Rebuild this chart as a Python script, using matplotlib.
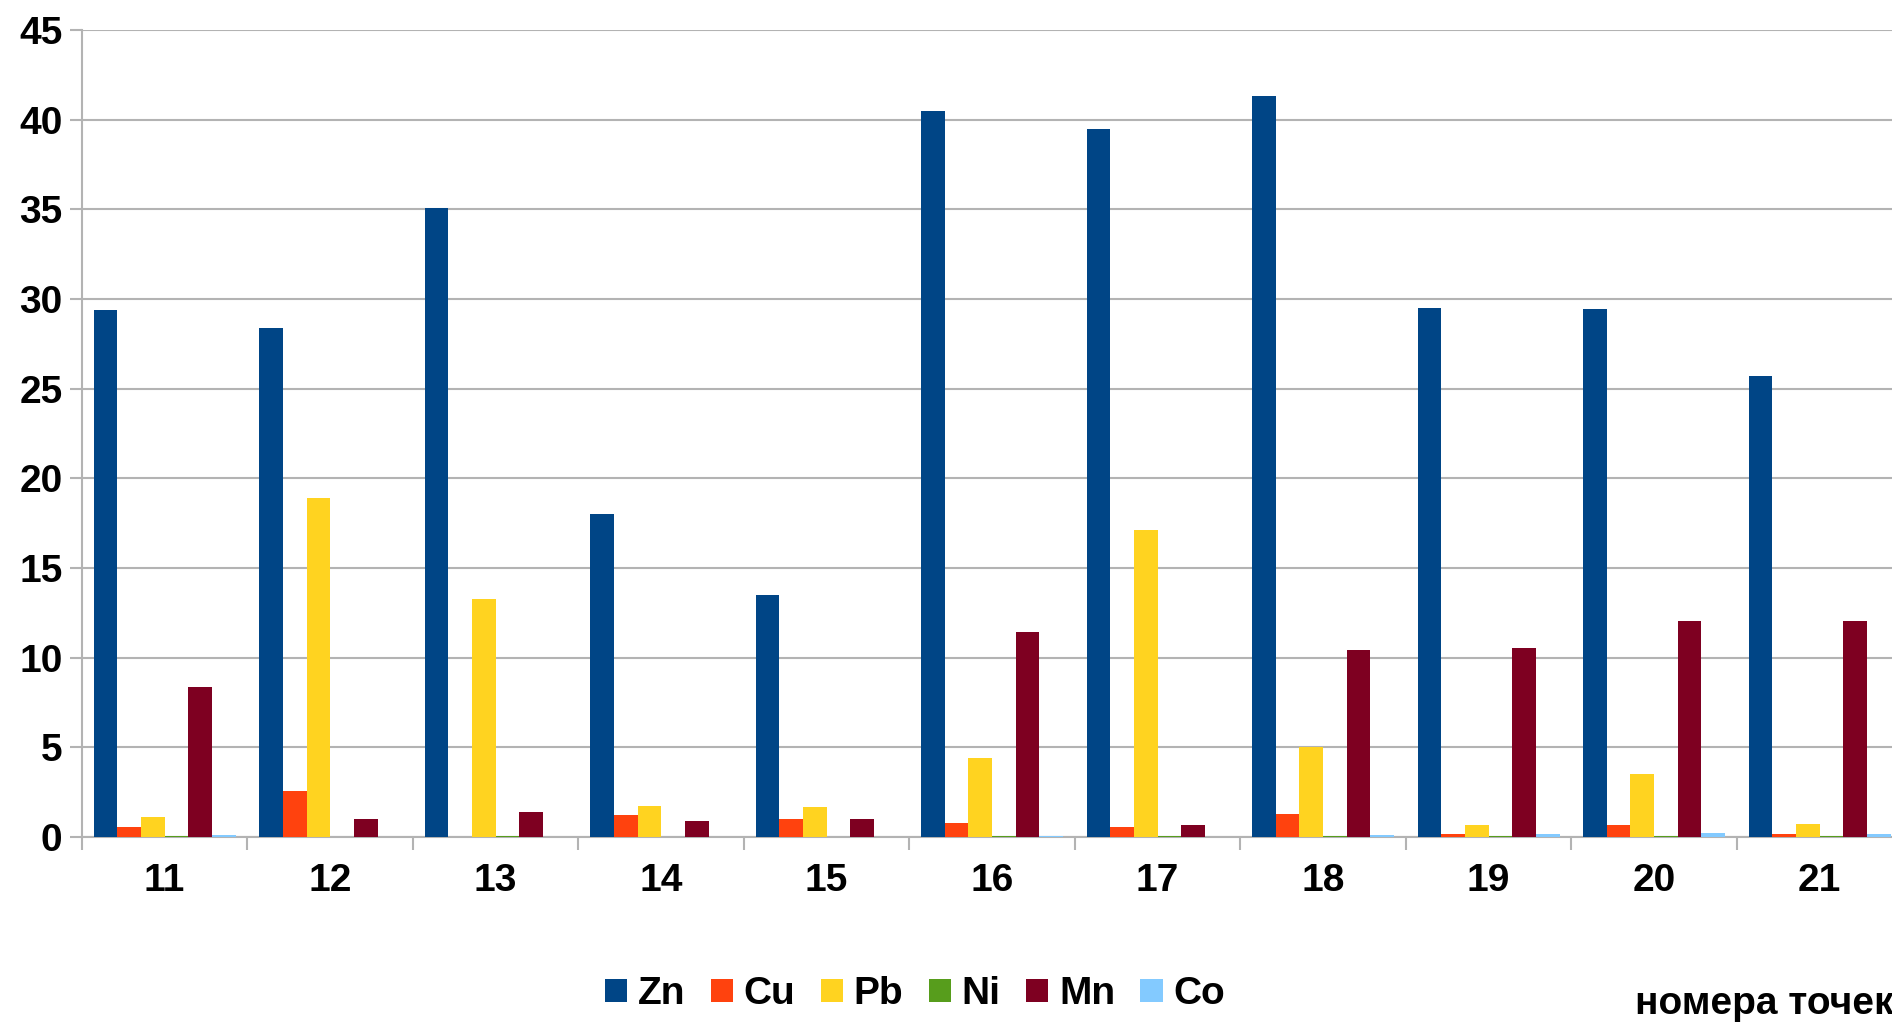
import numpy as np
import matplotlib.pyplot as plt
from matplotlib.patches import Patch

# номера точек отбора и содержание металлов
points = ['11', '12', '13', '14', '15', '16', '17', '18', '19', '20', '21']
zn = [29.4, 28.4, 35.1, 18.0, 13.5, 40.5, 39.5, 41.3, 29.5, 29.45, 25.7]
cu = [0.55, 2.55, 0.0, 1.2, 1.0, 0.8, 0.55, 1.3, 0.17, 0.65, 0.15]
pb = [1.1, 18.9, 13.3, 1.75, 1.7, 4.4, 17.1, 5.0, 0.65, 3.5, 0.7]
ni = [0.05, 0.0, 0.05, 0.0, 0.0, 0.05, 0.05, 0.05, 0.05, 0.05, 0.05]
mn = [8.35, 1.0, 1.4, 0.9, 1.0, 11.45, 0.65, 10.45, 10.55, 12.05, 12.05]
co = [0.1, 0.0, 0.0, 0.0, 0.0, 0.05, 0.0, 0.1, 0.17, 0.2, 0.15]

elements = ['Zn', 'Cu', 'Pb', 'Ni', 'Mn', 'Co']
series = [zn, cu, pb, ni, mn, co]
colors = ['#004586', '#ff420e', '#ffd320', '#579d1c', '#7e0021', '#83caff']

plt.rcParams['font.family'] = ['Liberation Sans', 'DejaVu Sans']
plt.rcParams['font.weight'] = 'bold'

fig = plt.figure(figsize=(18.92, 10.25), dpi=100)
# ось заходит за правый край листа
ax = fig.add_axes([0.0433, 0.1834, 0.9622, 0.7873])

x = np.arange(len(points))
w = 0.143
for i, (vals, c, name) in enumerate(zip(series, colors, elements)):
    ax.bar(x + (i - 2.5) * w, vals, width=w, color=c, label=name,
           edgecolor='none', zorder=3)

ax.set_xlim(-0.5, len(points) - 0.5)
ax.set_ylim(0, 45)
ax.set_yticks(range(0, 46, 5))
ax.yaxis.grid(True, color='#b3b3b3', linewidth=1.5, zorder=0)

ax.set_xticks(x)
ax.set_xticklabels(points)
ax.set_xticks(np.arange(-0.5, len(points)), minor=True)
ax.tick_params(axis='x', which='major', length=0, pad=19, labelsize=28)
ax.tick_params(axis='x', which='minor', length=9, width=1.5, color='#b3b3b3')
ax.tick_params(axis='y', length=9, width=1.5, color='#b3b3b3', pad=5,
               labelsize=28)

for s in ['top', 'right']:
    ax.spines[s].set_visible(False)
for s in ['left', 'bottom']:
    ax.spines[s].set_color('#b3b3b3')
    ax.spines[s].set_linewidth(1.5)

handles = [Patch(facecolor=c, label=n) for c, n in zip(colors, elements)]
fig.legend(handles=handles, loc='center', bbox_to_anchor=(0.4836, 0.030),
           ncol=6, frameon=False, fontsize=28, handlelength=0.57,
           handleheight=0.57, handletextpad=0.28, columnspacing=0.65)

fig.text(1635 / 1892, 1 - 1004 / 1025, 'номера точек', fontsize=28,
         fontweight='bold', ha='left', va='center')

fig.savefig('out.png', dpi=100)
